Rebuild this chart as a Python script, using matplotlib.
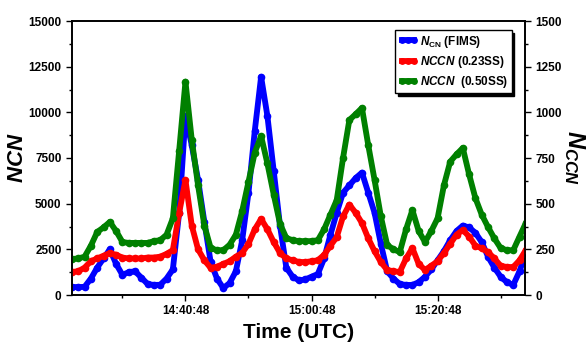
import matplotlib
matplotlib.use("Agg")
import matplotlib.pyplot as plt
import matplotlib.dates as mdates
from matplotlib.ticker import MultipleLocator, FixedLocator
import pandas as pd

plt.rcParams['font.family'] = ['Liberation Sans', 'DejaVu Sans']
plt.rcParams['font.weight'] = 'bold'
plt.rcParams['mathtext.fontset'] = 'custom'
plt.rcParams['mathtext.it'] = 'Liberation Sans:italic:bold'
plt.rcParams['mathtext.rm'] = 'Liberation Sans:bold'
plt.rcParams['mathtext.bf'] = 'Liberation Sans:bold'

# one sample per minute starting 14:22:48 UTC
times = pd.date_range("2000-01-01 14:22:48", periods=73, freq="1min")

n_cn = [440, 430, 450, 900, 1500, 2000, 2500, 1700, 1100, 1250,
        1300, 950, 600, 550, 560, 900, 1400, 4500, 9800, 8200,
        6300, 4000, 1800, 900, 380, 650, 1300, 3000, 5600, 9000,
        11950, 9800, 6800, 3800, 1500, 1000, 800, 850, 1000, 1150,
        2000, 3300, 4500, 5600, 6000, 6400, 6700, 5600, 4500, 2800,
        1300, 900, 600, 550, 550, 700, 1000, 1400, 1900, 2400,
        3000, 3500, 3800, 3700, 3400, 2900, 2100, 1500, 1000, 700,
        550, 1300, 2300]

n_ccn_023 = [126, 130, 150, 185, 200, 215, 230, 220, 205, 200,
             200, 200, 205, 205, 210, 225, 246, 450, 630, 380,
             250, 190, 148, 155, 170, 185, 210, 230, 280, 360,
             416, 360, 290, 230, 200, 190, 181, 180, 185, 190,
             220, 270, 317, 430, 495, 450, 394, 310, 240, 180,
             137, 130, 126, 200, 257, 170, 137, 160, 185, 230,
             280, 330, 356, 320, 270, 255, 235, 200, 160, 153,
             153, 190, 246]

n_ccn_050 = [197, 200, 210, 270, 345, 370, 400, 350, 290, 285,
             285, 285, 285, 295, 300, 330, 420, 790, 1168, 850,
             600, 380, 257, 245, 245, 275, 330, 460, 620, 780,
             870, 720, 550, 390, 312, 300, 295, 295, 295, 300,
             360, 440, 520, 750, 958, 990, 1024, 820, 630, 430,
             274, 250, 235, 360, 465, 350, 290, 350, 420, 600,
             730, 770, 805, 660, 530, 440, 372, 310, 257, 245,
             245, 320, 394]

legend_labels = [r'$N_{\rm CN}$ (FIMS)', r'$NCCN$ (0.23SS)', r'$NCCN$  (0.50SS)']
xticks = ["2000-01-01 14:40:48", "2000-01-01 15:00:48", "2000-01-01 15:20:48"]
xminor = ["2000-01-01 14:30:48", "2000-01-01 14:50:48", "2000-01-01 15:10:48", "2000-01-01 15:30:48"]

fig = plt.figure(figsize=(5.87, 3.47), dpi=100)
ax = fig.add_axes([72/587, 1-295/347, (525-72)/587, (295-21)/347])
ax2 = ax.twinx()

style = dict(lw=4.2, marker='o', ms=5.5, markeredgewidth=0, solid_joinstyle='round')
l1, = ax.plot(times, n_cn, color='#0000ff', **style)
l2, = ax2.plot(times, n_ccn_023, color='#ff0000', **style)
l3, = ax2.plot(times, n_ccn_050, color='#008000', **style)

ax.set_ylim(0, 15000)
ax2.set_ylim(0, 1500)
ax.set_xlim(pd.Timestamp("2000-01-01 14:22:48"), pd.Timestamp("2000-01-01 15:34:40"))

ax.yaxis.set_major_locator(MultipleLocator(2500))
ax.yaxis.set_minor_locator(MultipleLocator(1250))
ax2.yaxis.set_major_locator(MultipleLocator(250))
ax2.yaxis.set_minor_locator(MultipleLocator(125))
ax.xaxis.set_major_locator(FixedLocator(mdates.date2num(pd.to_datetime(xticks))))
ax.xaxis.set_minor_locator(FixedLocator(mdates.date2num(pd.to_datetime(xminor))))
ax.xaxis.set_major_formatter(mdates.DateFormatter('%H:%M:%S'))

for a in (ax, ax2):
    a.tick_params(which='major', direction='out', length=4, width=1, labelsize=8.5)
    a.tick_params(which='minor', direction='out', length=2.5, width=1)
    for sp in a.spines.values():
        sp.set_linewidth(1.2)
for lab in ax.get_xticklabels() + ax.get_yticklabels() + ax2.get_yticklabels():
    lab.set_fontweight('bold')

ax.set_xlabel('Time (UTC)', fontsize=15, fontweight='bold', labelpad=4)
ax.set_ylabel(r'$NCN$', fontsize=16, labelpad=0)
ax2.set_ylabel(r'$N_{CCN}$', fontsize=17, rotation=270, labelpad=18)

leg = ax2.legend([l1, l2, l3], legend_labels, loc='upper left',
                 bbox_to_anchor=(395/587, 1-30/347), bbox_transform=fig.transFigure,
                 borderaxespad=0, fontsize=8.5, frameon=True, fancybox=False,
                 shadow={'color': 'black', 'alpha': 1}, handlelength=1.6,
                 handletextpad=0.2, labelspacing=0.35, borderpad=0.3, numpoints=3,
                 markerscale=0.9)
leg.get_frame().set_edgecolor('black')
leg.get_frame().set_linewidth(1.0)

fig.savefig('out.png', dpi=100)
